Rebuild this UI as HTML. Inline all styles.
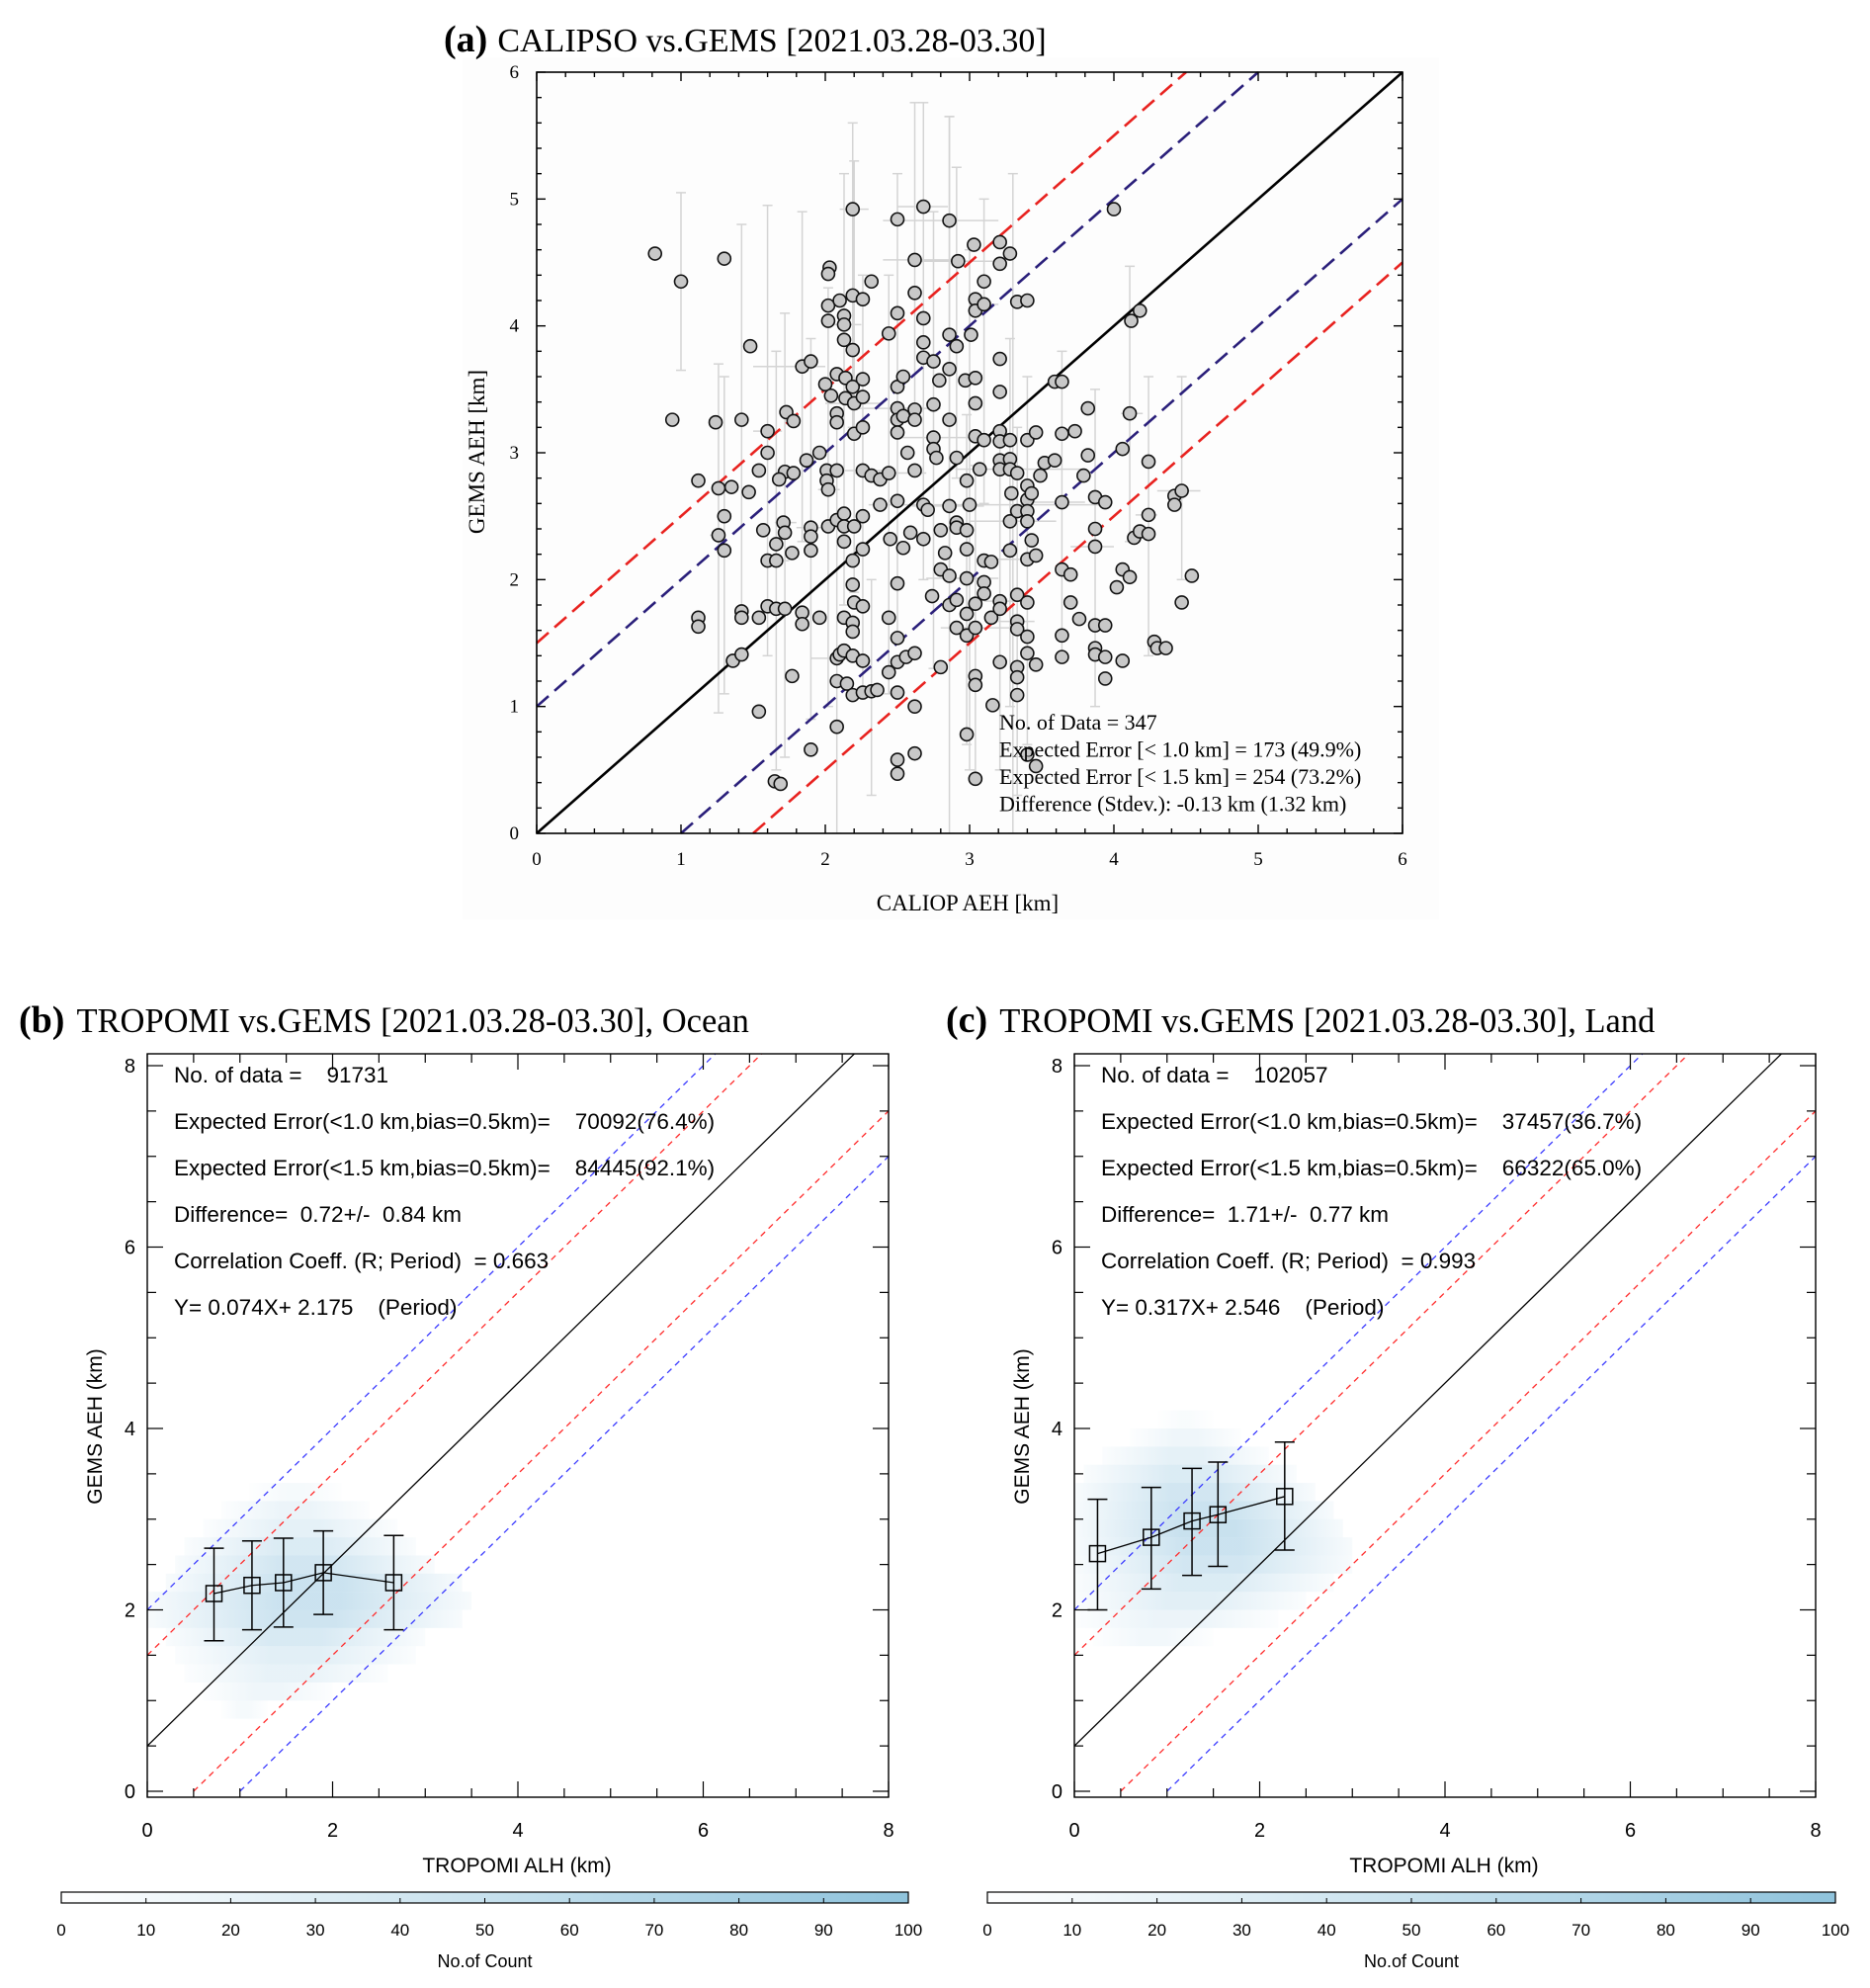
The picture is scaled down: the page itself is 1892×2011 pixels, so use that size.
<!DOCTYPE html>
<html><head><meta charset="utf-8"><style>
html,body{margin:0;padding:0;background:#fff;}
svg{display:block;}
.serif{font-family:"Liberation Serif",serif;}
.sans{font-family:"Liberation Sans",sans-serif;}
</style></head><body>
<svg id="root" width="1892" height="2011" viewBox="0 0 1892 2011" xmlns="http://www.w3.org/2000/svg">
<defs>
<clipPath id="clipA"><rect x="543" y="73" width="876" height="770"/></clipPath>
<clipPath id="clipB"><rect x="149" y="1066" width="750" height="752"/></clipPath>
<clipPath id="clipC"><rect x="1087" y="1066" width="750" height="752"/></clipPath>
<linearGradient id="cbGrad" x1="0" x2="1" y1="0" y2="0"><stop offset="0" stop-color="#ffffff"/><stop offset="1" stop-color="#8fc3dc"/></linearGradient>
<linearGradient id="rowGrad" x1="0" x2="1" y1="0" y2="0"><stop offset="0" stop-color="#7db8d8" stop-opacity="0.15"/><stop offset="0.4" stop-color="#7db8d8" stop-opacity="1"/><stop offset="0.6" stop-color="#7db8d8" stop-opacity="1"/><stop offset="1" stop-color="#7db8d8" stop-opacity="0.15"/></linearGradient>
</defs>
<rect x="468" y="58" width="988" height="872" fill="#fdfdfd"/>
<g id="panelA"></g>
<g id="panelB"></g>
<g id="panelC"></g>
</svg>
<script>
// ---------- Panel (a) data ----------
const aX=[0.82,1.0,1.3,0.94,1.24,1.42,1.48,1.12,1.26,1.35,1.47,1.30,1.26,1.30,1.12,1.12,1.42,1.42,1.36,1.42,1.54,1.65,1.69,1.60,1.60,1.54,1.57,1.60,1.66,1.66,1.71,1.72,1.72,1.68,1.73,1.78,1.78,1.77,1.60,1.66,1.72,1.54,1.77,1.84,1.84,1.87,1.90,1.90,1.90,1.90,1.96,1.84,1.90,2.0,1.96,2.01,2.01,2.02,2.02,2.03,2.02,2.02,2.02,2.04,2.08,2.08,2.08,2.10,2.13,2.13,2.13,2.14,2.14,2.19,2.19,2.19,2.19,2.20,2.20,2.26,2.26,2.26,2.26,2.32,2.08,2.08,2.13,2.13,2.13,2.20,2.19,2.19,2.20,2.26,2.26,2.26,2.26,2.32,2.38,2.38,2.13,2.19,2.19,2.08,2.10,2.13,2.19,2.26,2.08,2.15,2.19,2.26,2.32,2.36,2.08,2.44,2.44,2.45,2.44,2.44,2.50,2.50,2.50,2.50,2.50,2.50,2.50,2.50,2.50,2.50,2.50,2.50,2.50,2.54,2.54,2.54,2.57,2.59,2.56,2.62,2.62,2.62,2.62,2.62,2.62,2.62,2.62,2.68,2.68,2.68,2.68,2.68,2.68,2.71,2.75,2.75,2.75,2.75,2.77,2.79,2.80,2.74,2.80,2.83,2.80,2.86,2.86,2.86,2.86,2.86,2.86,2.86,2.91,2.92,2.91,2.91,2.91,2.91,2.91,2.97,2.98,2.98,2.98,2.98,2.98,2.98,2.98,3.01,3.0,3.03,3.04,3.04,3.04,3.04,3.04,3.04,3.04,3.04,3.04,3.04,3.07,3.10,3.10,3.10,3.10,3.10,3.10,3.15,3.15,3.16,3.21,3.21,3.21,3.21,3.21,3.21,3.21,3.21,3.21,3.21,3.21,3.28,3.28,3.28,3.28,3.28,3.28,3.29,3.33,3.33,3.33,3.33,3.33,3.33,3.33,3.33,3.33,3.40,3.40,3.40,3.40,3.40,3.40,3.40,3.40,3.40,3.40,3.40,3.43,3.43,3.46,3.46,3.46,3.46,3.49,3.52,3.59,3.59,3.64,3.64,3.64,3.64,3.64,3.64,3.70,3.70,3.73,3.76,3.79,3.82,3.82,3.87,3.87,3.87,3.87,3.87,3.87,3.94,3.94,3.94,3.94,4.0,4.02,4.06,4.06,4.06,4.11,4.11,4.12,4.14,4.18,4.18,4.24,4.24,4.24,4.28,4.30,4.36,4.42,4.42,4.47,4.47,4.54];
const aY=[4.57,4.35,4.53,3.26,3.24,3.26,3.84,2.78,2.72,2.73,2.69,2.5,2.35,2.23,1.70,1.63,1.75,1.70,1.36,1.41,0.96,0.41,0.39,3.17,3.0,2.86,2.39,2.15,2.15,2.28,2.45,2.37,2.85,2.79,3.32,3.25,2.84,2.21,1.79,1.77,1.77,1.70,1.24,1.74,1.65,2.94,2.41,2.34,2.23,0.66,1.70,3.68,3.72,3.54,3.0,2.86,2.78,2.71,2.42,4.46,4.41,4.16,4.04,3.45,3.31,3.24,3.62,4.2,4.08,4.01,3.89,3.59,3.43,3.81,4.24,4.92,3.52,3.39,3.15,3.58,3.44,3.20,4.21,4.35,2.86,2.47,2.52,2.42,2.30,2.42,2.15,1.96,1.82,1.79,2.50,2.24,2.86,2.82,2.79,2.59,1.70,1.66,1.59,1.38,1.41,1.44,1.40,1.36,1.20,1.18,1.09,1.11,1.12,1.13,0.84,3.94,2.84,2.32,1.70,1.27,4.84,4.10,3.52,3.35,3.26,3.16,2.62,1.97,1.54,1.35,1.11,0.58,0.47,3.60,3.29,2.25,3.0,2.37,1.39,4.52,4.26,3.34,3.26,2.86,1.42,1.0,0.63,4.94,4.06,3.87,3.75,2.59,2.32,2.55,3.72,3.38,3.12,3.03,2.96,3.57,1.31,1.87,2.39,2.21,2.08,4.83,3.93,3.66,3.26,2.58,2.03,1.80,3.84,4.51,2.96,2.45,2.41,1.84,1.62,3.57,2.78,2.39,2.24,2.01,1.73,1.56,0.78,3.93,2.59,4.64,4.21,4.12,3.59,3.39,3.13,1.81,1.62,1.24,1.17,0.43,2.87,4.35,4.17,3.10,2.15,1.98,1.89,2.14,1.70,1.01,4.66,4.49,3.74,3.48,3.17,3.09,2.94,2.87,1.83,1.77,1.35,4.57,3.10,2.95,2.87,2.46,2.23,2.68,4.19,2.84,2.54,1.88,1.67,1.61,1.31,1.23,1.09,4.2,3.10,2.74,2.63,2.54,2.46,2.16,1.82,1.55,1.42,0.62,2.68,2.31,3.16,2.19,1.33,0.53,2.82,2.92,2.94,3.56,3.56,3.15,2.61,2.08,1.56,1.39,2.04,1.82,3.17,1.69,2.82,2.98,3.35,2.65,2.40,2.26,1.64,1.46,1.41,2.61,1.64,1.39,1.22,4.92,1.94,3.03,2.08,1.36,3.31,2.02,4.04,2.33,4.12,2.38,2.93,2.51,2.36,1.51,1.46,1.46,2.66,2.59,2.70,1.82,2.03];
// error bars (subset): center x, y, y-low, y-high, x-low, x-high
const eX=[1.0,1.26,1.30,1.42,1.60,1.66,1.72,1.90,2.02,2.13,2.19,2.26,2.32,2.44,2.50,2.62,2.68,2.75,2.86,2.91,2.98,3.04,3.10,3.21,3.28,3.33,3.40,3.64,3.87,4.11,4.24,4.47,2.86,3.0,2.2,3.3,1.84,2.08];
const eY=[4.35,2.35,2.50,3.26,3.17,2.15,2.45,2.41,2.71,4.01,4.92,2.86,1.12,2.84,3.35,4.52,4.94,3.12,4.83,4.51,2.01,1.62,4.17,1.83,2.46,1.67,2.16,2.61,2.26,3.31,2.51,2.70,2.58,2.59,3.39,2.87,3.68,1.38];
const eLo=[3.65,0.95,1.1,1.7,1.4,0.5,0.6,0.9,1.0,1.8,3.2,1.1,0.3,1.1,1.5,3.3,2.0,1.3,2.0,2.8,0.7,0.4,2.6,0.5,1.0,0.3,0.7,1.4,1.0,2.3,1.4,2.0,0.0,0.5,1.9,0.0,2.3,0.0];
const eHi=[5.05,3.7,3.6,4.8,4.95,3.8,4.1,3.9,4.3,5.2,5.6,4.4,2.0,4.4,5.2,5.76,5.76,4.9,5.65,5.25,3.3,2.9,5.0,3.1,3.9,3.2,3.6,3.8,3.5,4.47,3.6,3.6,5.65,4.6,5.3,5.2,4.9,3.2];
const eXlo=[0.95,1.2,1.25,1.4,1.5,1.6,1.65,1.8,1.95,2.0,2.1,2.1,2.25,2.2,2.2,2.4,2.5,2.5,2.4,2.6,2.7,2.8,3.0,3.1,3.0,3.2,3.1,3.4,3.7,4.05,4.15,4.3,2.6,2.3,2.0,2.9,1.5,1.9];
const eXhi=[1.05,1.3,1.35,1.45,1.7,1.75,1.8,2.0,2.1,2.25,2.3,2.4,2.4,2.7,2.8,2.9,2.85,3.0,3.2,3.2,3.2,3.3,3.2,3.4,3.6,3.45,3.5,3.8,4.0,4.2,4.3,4.6,3.1,3.9,2.4,3.8,2.0,2.3];
const aTicks=[0,1,2,3,4,5,6];
const aStats=["No. of Data = 347","Expected Error [< 1.0 km] = 173 (49.9%)","Expected Error [< 1.5 km] = 254 (73.2%)","Difference (Stdev.): -0.13 km (1.32 km)"];

// ---------- Panels (b),(c) data ----------
const bMeanX=[0.72,1.13,1.47,1.90,2.66];
const bMeanY=[2.18,2.27,2.30,2.41,2.30];
const bErrHi=[2.68,2.76,2.79,2.87,2.82];
const bErrLo=[1.66,1.78,1.81,1.95,1.78];
const cMeanX=[0.25,0.83,1.27,1.55,2.27];
const cMeanY=[2.62,2.80,2.98,3.05,3.25];
const cErrHi=[3.22,3.35,3.56,3.63,3.85];
const cErrLo=[2.00,2.23,2.38,2.48,2.66];
const bHeatY=[0.9,1.1,1.3,1.5,1.7,1.9,2.1,2.3,2.5,2.7,2.9,3.1,3.3];
const bHeatX0=[0.8,0.6,0.4,0.3,0.2,0.0,0.0,0.2,0.3,0.4,0.6,0.8,1.1];
const bHeatX1=[1.3,2.0,2.6,2.9,3.0,3.4,3.5,3.4,3.1,2.9,2.7,2.4,2.1];
const bHeatI=[0.15,0.25,0.35,0.45,0.6,0.75,0.8,0.8,0.7,0.55,0.4,0.3,0.15];
const cHeatY=[1.7,1.9,2.1,2.3,2.5,2.7,2.9,3.1,3.3,3.5,3.7,3.9,4.1];
const cHeatX0=[0.2,0.0,0.0,0.0,0.0,0.0,0.0,0.0,0.0,0.1,0.3,0.6,0.9];
const cHeatX1=[1.5,2.2,2.5,2.8,3.0,3.0,2.9,2.8,2.6,2.4,2.1,1.8,1.5];
const cHeatI=[0.2,0.3,0.45,0.55,0.7,0.8,0.85,0.8,0.7,0.55,0.4,0.25,0.1];
const bStats=["No. of data =    91731","Expected Error(<1.0 km,bias=0.5km)=    70092(76.4%)","Expected Error(<1.5 km,bias=0.5km)=    84445(92.1%)","Difference=  0.72+/-  0.84 km","Correlation Coeff. (R; Period)  = 0.663","Y= 0.074X+ 2.175    (Period)"];
const cStats=["No. of data =    102057","Expected Error(<1.0 km,bias=0.5km)=    37457(36.7%)","Expected Error(<1.5 km,bias=0.5km)=    66322(65.0%)","Difference=  1.71+/-  0.77 km","Correlation Coeff. (R; Period)  = 0.993","Y= 0.317X+ 2.546    (Period)"];
const bcTicks=[0,2,4,6,8];
const cbTicks=[0,10,20,30,40,50,60,70,80,90,100];

const NS="http://www.w3.org/2000/svg";
function mk(parent,tag,attrs,text){const e=document.createElementNS(NS,tag);for(const k in attrs)e.setAttribute(k,attrs[k]);if(text!==undefined)e.textContent=text;parent.appendChild(e);return e;}

// ---------- Panel A ----------
(function(){
const g=document.getElementById('panelA');
const L=543,R=1419,T=73,B=843;
const xa=v=>L+v*(R-L)/6, ya=v=>B-v*(B-T)/6;
const t=mk(g,'text',{x:449,y:52,class:'serif','font-size':34});
mk(t,'tspan',{'font-weight':'bold','font-size':38},'(a)');
mk(t,'tspan',{dx:10},'CALIPSO vs.GEMS [2021.03.28-03.30]');


const errG=mk(g,'g',{stroke:'#d4d4d4','stroke-width':1.5,'clip-path':'url(#clipA)'});


for(let i=0;i<eX.length;i++){
 mk(errG,'line',{x1:xa(eX[i]),x2:xa(eX[i]),y1:ya(eLo[i]),y2:ya(eHi[i])});
 mk(errG,'line',{x1:xa(eX[i])-5,x2:xa(eX[i])+5,y1:ya(eHi[i]),y2:ya(eHi[i])});
 mk(errG,'line',{x1:xa(eX[i])-5,x2:xa(eX[i])+5,y1:ya(eLo[i]),y2:ya(eLo[i])});
 mk(errG,'line',{x1:xa(eXlo[i]),x2:xa(eXhi[i]),y1:ya(eY[i]),y2:ya(eY[i])});
}
const lines=[[1.5,'#e8221f',false],[1,'#2a1f7a',false],[-1,'#2a1f7a',false],[-1.5,'#e8221f',false],[0,'#000',true]];
lines.forEach(([d,c,solid])=>{
 const x0=Math.max(0,-d),x1=Math.min(6,6-d);
 const l=mk(g,'line',{x1:xa(x0),y1:ya(x0+d),x2:xa(x1),y2:ya(x1+d),stroke:c,'stroke-width':2.6,'stroke-dasharray':solid?'none':'16 8'});
 
 
});
const pg=mk(g,'g',{});


for(let i=0;i<aX.length;i++){
 const c=mk(pg,'circle',{cx:xa(aX[i]),cy:ya(aY[i]),r:6.5,fill:'#c8c8c8',stroke:'#111','stroke-width':1.6});
 
 
}
const fr=mk(g,'rect',{x:L,y:T,width:R-L,height:B-T,fill:'none',stroke:'#000','stroke-width':1.6});


for(let v=0;v<=6.0001;v+=0.2){
 const major=Math.abs(v-Math.round(v))<1e-6, len=major?9:5;
 mk(g,'line',{x1:xa(v),x2:xa(v),y1:B,y2:B-len,stroke:'#000','stroke-width':1.4});
 mk(g,'line',{x1:xa(v),x2:xa(v),y1:T,y2:T+len,stroke:'#000','stroke-width':1.4});
 mk(g,'line',{x1:L,x2:L+len,y1:ya(v),y2:ya(v),stroke:'#000','stroke-width':1.4});
 mk(g,'line',{x1:R,x2:R-len,y1:ya(v),y2:ya(v),stroke:'#000','stroke-width':1.4});
}
aTicks.forEach(v=>{
 const tx=mk(g,'text',{x:xa(v),y:B+32,'text-anchor':'middle',class:'serif','font-size':19},String(v));
 
 
 const ty=mk(g,'text',{x:L-18,y:ya(v)+6,'text-anchor':'end',class:'serif','font-size':19},String(v));
 
 
});
const xl=mk(g,'text',{x:979,y:921,'text-anchor':'middle',class:'serif','font-size':23},'CALIOP AEH [km]');


const yl=mk(g,'text',{x:0,y:0,'text-anchor':'middle',class:'serif','font-size':23,transform:'translate(490,457) rotate(-90)'},'GEMS AEH [km]');


aStats.forEach((s,i)=>{
 const st=mk(g,'text',{x:1011,y:738+i*27.5,class:'serif','font-size':22},s);
 
 
});
})();

// ---------- Panels B, C ----------
function drawTropomi(gid,L,label,title,meanX,meanY,errHi,errLo,hy,hx0,hx1,hi,stats,clip,cbL,cbR){
 const g=document.getElementById(gid);
 const R=L+750,T=1066,B=1818;
 const xs=v=>L+v*93.75, ys=v=>1812-v*91.75;
 const t=mk(g,'text',{x:L-130,y:1044,class:'serif','font-size':34.5});
 mk(t,'tspan',{'font-weight':'bold','font-size':38},label);
 mk(t,'tspan',{dx:12},title);
 
 
 const hg=mk(g,'g',{'clip-path':'url(#'+clip+')'});
 
 
 for(let i=0;i<hy.length;i++){
  const r=mk(hg,'rect',{x:xs(hx0[i]),y:ys(hy[i]+0.1),width:xs(hx1[i])-xs(hx0[i]),height:ys(hy[i]-0.1)-ys(hy[i]+0.1),fill:'url(#rowGrad)',opacity:hi[i]*0.5});
  
  
 }
 const lines=[[2,'#3b3bff',false],[1.5,'#ff2a2a',false],[-0.5,'#ff2a2a',false],[-1,'#3b3bff',false],[0.5,'#000',true]];
 lines.forEach(([d,c,solid])=>{
  const x0=Math.max(0,-d),x1=Math.min(8,8.2-d);
  const l=mk(g,'line',{x1:xs(x0),y1:ys(x0+d),x2:xs(x1),y2:ys(x1+d),stroke:c,'stroke-width':1.3,'stroke-dasharray':solid?'none':'6 5','clip-path':'url(#'+clip+')'});
  
  
 });
 const mg=mk(g,'g',{});
 
 
 let pts=meanX.map((x,i)=>xs(x)+','+ys(meanY[i])).join(' ');
 mk(mg,'polyline',{points:pts,fill:'none',stroke:'#000','stroke-width':1.3});
 for(let i=0;i<meanX.length;i++){
  const x=xs(meanX[i]);
  mk(mg,'line',{x1:x,x2:x,y1:ys(errLo[i]),y2:ys(errHi[i]),stroke:'#000','stroke-width':1.5});
  mk(mg,'line',{x1:x-10,x2:x+10,y1:ys(errLo[i]),y2:ys(errLo[i]),stroke:'#000','stroke-width':1.5});
  mk(mg,'line',{x1:x-10,x2:x+10,y1:ys(errHi[i]),y2:ys(errHi[i]),stroke:'#000','stroke-width':1.5});
  const sq=mk(mg,'rect',{x:x-8,y:ys(meanY[i])-8,width:16,height:16,fill:'none',stroke:'#000','stroke-width':1.5});
  
  
 }
 const fr=mk(g,'rect',{x:L,y:T,width:750,height:B-T,fill:'none',stroke:'#000','stroke-width':1.4});
 
 
 for(let v=0;v<=8.0001;v+=0.5){
  const major=Math.abs(v/2-Math.round(v/2))<1e-6,len=major?16:9;
  mk(g,'line',{x1:xs(v),x2:xs(v),y1:B,y2:B-len,stroke:'#000','stroke-width':1.2});
  mk(g,'line',{x1:xs(v),x2:xs(v),y1:T,y2:T+len,stroke:'#000','stroke-width':1.2});
  mk(g,'line',{x1:L,x2:L+len,y1:ys(v),y2:ys(v),stroke:'#000','stroke-width':1.2});
  mk(g,'line',{x1:R,x2:R-len,y1:ys(v),y2:ys(v),stroke:'#000','stroke-width':1.2});
 }
 bcTicks.forEach(v=>{
  const tx=mk(g,'text',{x:xs(v),y:1858,'text-anchor':'middle',class:'sans','font-size':20},String(v));
  
  
  const ty=mk(g,'text',{x:L-12,y:ys(v)+7,'text-anchor':'end',class:'sans','font-size':20},String(v));
  
  
 });
 const xl=mk(g,'text',{x:L+374,y:1894,'text-anchor':'middle',class:'sans','font-size':21},'TROPOMI ALH (km)');
 
 
 const yl=mk(g,'text',{x:0,y:0,'text-anchor':'middle',class:'sans','font-size':21,transform:'translate('+(L-46)+',1443) rotate(-90)'},'GEMS AEH (km)');
 
 
 stats.forEach((s,i)=>{
  const st=mk(g,'text',{x:L+27,y:1095+i*47,class:'sans','font-size':22.5});
  st.textContent=s;
  st.setAttribute('style','white-space:pre');
  
  
 });
 const cb=mk(g,'rect',{x:cbL,y:1914,width:cbR-cbL,height:11,fill:'url(#cbGrad)',stroke:'#000','stroke-width':1.2});
 
 
 cbTicks.forEach(v=>{
  const x=cbL+v/100*(cbR-cbL);
  mk(g,'line',{x1:x,x2:x,y1:1925,y2:1920,stroke:'#000','stroke-width':1});
  const tl=mk(g,'text',{x:x,y:1958,'text-anchor':'middle',class:'sans','font-size':17},String(v));
  
  
 });
 const ct=mk(g,'text',{x:(cbL+cbR)/2,y:1990,'text-anchor':'middle',class:'sans','font-size':18},'No.of Count');
 
 
}
drawTropomi('panelB',149,'(b)','TROPOMI vs.GEMS [2021.03.28-03.30], Ocean',bMeanX,bMeanY,bErrHi,bErrLo,bHeatY,bHeatX0,bHeatX1,bHeatI,bStats,'clipB',62,919);
drawTropomi('panelC',1087,'(c)','TROPOMI vs.GEMS [2021.03.28-03.30], Land',cMeanX,cMeanY,cErrHi,cErrLo,cHeatY,cHeatX0,cHeatX1,cHeatI,cStats,'clipC',999,1857);
</script>
</body></html>
